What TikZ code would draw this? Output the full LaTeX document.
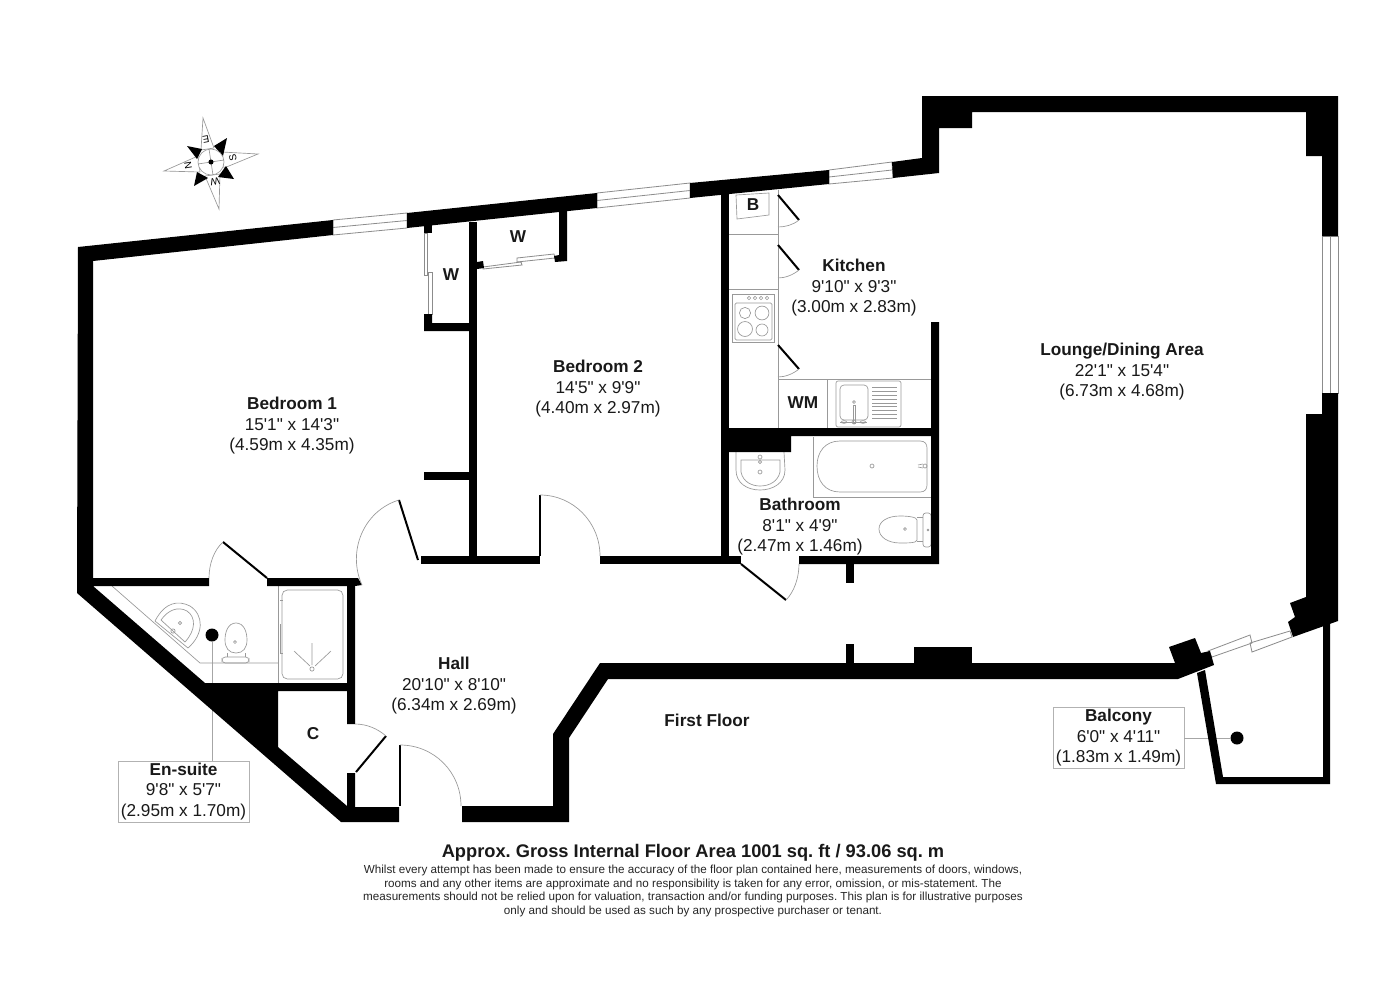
\documentclass[tikz,border=0pt]{standalone}
\usepackage{fontspec}
\setmainfont{Liberation Sans}
\newfontfamily\planfont{Liberation Sans}
\frenchspacing

\begin{document}
\begin{tikzpicture}[
    x=0.75pt, y=-0.75pt,
    wall/.style={fill=black},
    fixture/.style={draw=black!40, line width=0.5pt},
    glazing/.style={draw=black!45, line width=0.6pt},
    doorleaf/.style={draw=black, line width=1.5pt},
    swing/.style={draw=black!40, line width=0.5pt},
    roomlabel/.style={align=center, inner sep=0pt, text=black!90, font=\planfont\fontsize{12.9}{15.4}\selectfont},
    boxlabel/.style={roomlabel, draw=black!30, line width=0.6pt, minimum height=45.75pt},
    unitlabel/.style={inner sep=0pt, text=black!90, font=\planfont\bfseries\fontsize{12.9}{15.4}\selectfont},
    blackdot/.style={circle, fill=black, minimum size=9.75pt, inner sep=0pt},
    leader/.style={draw=black!35, line width=0.5pt},
    ]

    \path[fill=white] (0,0) rectangle (1400,989);
    \useasboundingbox (0,0) rectangle (1400,989);

    % compass
    \draw[fixture,fill=white] (164,171) -- (198,156) -- (200,172) -- cycle;
    \draw[fixture,fill=white] (258,154) -- (222,152) -- (224,168) -- cycle;
    \draw[fixture,fill=white] (203,118) -- (201,150) -- (214,148) -- cycle;
    \draw[fixture,fill=white] (219,209) -- (205,176) -- (220,174) -- cycle;
    \fill (187,146) -- (202,149) -- (197,159) -- cycle;
    \fill (227,138) -- (214,146) -- (223,156) -- cycle;
    \fill (234,179) -- (226,166) -- (218,177) -- cycle;
    \fill (194,186) -- (197,172) -- (208,178) -- cycle;
    \draw[fixture,fill=white] (211,162) circle (9.75pt);
    \draw[fixture] (198,164) -- (224,160);
    \draw[fixture] (209,149) -- (213,175);
    \fill (211,162) circle (1.9pt);
    \node[font=\planfont\fontsize{7.5}{9}\selectfont,rotate=190,inner sep=0pt] (compe) at (206,139) {E};
    \node[font=\planfont\fontsize{7.5}{9}\selectfont,rotate=100,inner sep=0pt] (compn) at (188,166) {N};
    \node[font=\planfont\fontsize{7.5}{9}\selectfont,rotate=100,inner sep=0pt] (comps) at (233,158) {S};
    \node[font=\planfont\fontsize{7.5}{9}\selectfont,rotate=190,inner sep=0pt] (compw) at (215,182) {W};

    % labels with leaders
    \node[boxlabel,minimum width=98.25pt] (ensuite) at (183.5,791.5) {\textbf{En-suite}\\9'8" x 5'7"\\(2.95m x 1.70m)};
    \node[boxlabel,minimum width=98.25pt] (balcony) at (1118.5,738) {\textbf{Balcony}\\6'0" x 4'11"\\(1.83m x 1.49m)};
    \node[blackdot] (ensuitedot) at (212,635) {};
    \node[blackdot] (balconydot) at (1237,738) {};
    \draw[leader] (ensuitedot) -- (ensuitedot |- ensuite.north);
    \draw[leader] (balcony.east) -- (balconydot);

    % windows
    \draw[glazing] (333,220) -- (407,213) -- (407,228) -- (333,235) -- cycle (333,227.5) -- (407,220.5);
    \draw[glazing] (597,193) -- (690,183) -- (690,198) -- (597,208) -- cycle (597,200.5) -- (690,190.5);
    \draw[glazing] (829,170) -- (892,162) -- (893,178) -- (829,184) -- cycle (829,177) -- (892,170);
    \draw[glazing] (1322,236) rectangle (1338,393) (1330,236) -- (1330,393);
    \draw[glazing] (1208,651) -- (1250,635) -- (1252,643) -- (1212,657) -- cycle;
    \draw[glazing] (1250,643) -- (1290,631) -- (1292,637) -- (1252,652) -- cycle;

    % fitted fixtures, en-suite
    \draw[fixture] (112,586) -- (200,663) -- (278,663);
    \draw[fixture] (278,586) -- (278,683);
    \draw[fixture,rounded corners=4pt] (282,590) rectangle (343,679);
    \draw[fixture] (280,600) -- (283,600) (280,624) -- (280,653) -- (283,653);
    \draw[fixture] (312,669) circle (1.6pt);
    \draw[fixture] (312,643) -- (312,665) (294,651) -- (310,666) (331,651) -- (315,666);
    \draw[fixture] (155,621) .. controls (165,602) and (178,600) .. (190,606) .. controls (204,615) and (204,634) .. (188,648) -- cycle;
    \draw[fixture] (161,620) .. controls (168,610) and (178,606) .. (187,611) .. controls (196,617) and (196,630) .. (185,642) -- cycle;
    \draw[fixture] (180,623) circle (1.2pt) (173,631) circle (1.6pt);
    \draw[fixture] (236,623) .. controls (228,623) and (225,632) .. (225,640) .. controls (225,648) and (229,653) .. (236,653) .. controls (243,653) and (247,648) .. (247,640) .. controls (247,632) and (244,623) .. (236,623) -- cycle;
    \draw[fixture] (235,642) circle (1.1pt);
    \draw[fixture] (227,653) -- (227,657) (245,653) -- (245,657);
    \draw[fixture,rounded corners=2.5pt] (222,657) rectangle (249,663);

    % fitted fixtures, kitchen
    \draw[fixture] (778,190) -- (778,428) (729,234) -- (778,234) (729,289) -- (778,289);
    \draw[fixture] (778,379) -- (931,379) (827,379) -- (827,428);
    \draw[fixture] (736,195) -- (769,193) -- (769,215) -- (737,219) -- cycle;
    \draw[fixture] (732,294) rectangle (774,342);
    \draw[fixture,rounded corners=1pt] (735,303) rectangle (772,340);
    \foreach \knobx in {749,755,761,767}
        \draw[fixture] (\knobx,298) circle (1.3pt);
    \draw[fixture] (745,313) circle (4.2pt) (762,313) circle (5.2pt) (745,329) circle (5.6pt) (762,330) circle (4.5pt);
    \draw[fixture,rounded corners=1.5pt] (836,381) rectangle (901,427);
    \draw[fixture,rounded corners=3pt] (840,385) rectangle (868,420);
    \foreach \liney in {387,391,395,399,403,406,410,414,418}
        \draw[fixture] (872,\liney) -- (897,\liney);
    \draw[fixture] (854,402) circle (1.1pt);
    \draw[fixture] (853,405) rectangle (855,423);
    \draw[fixture] (844,422) ellipse (2pt and 1pt) (854,422) ellipse (1.5pt and 1.5pt) (863,422) ellipse (2pt and 1pt);
    \draw[fixture] (840,422) -- (867,422);

    % fitted fixtures, bathroom
    \draw[fixture] (813,437) -- (813,497) -- (931,497);
    \draw[fixture] (840,441) .. controls (825,441) and (817,452) .. (817,466) .. controls (817,481) and (825,492) .. (840,492) -- (920,492) .. controls (925,492) and (927,489) .. (927,485) -- (927,448) .. controls (927,444) and (925,441) .. (920,441) -- cycle;
    \draw[fixture] (872,466) circle (1.5pt) (925,466) circle (1.5pt);
    \draw[fixture] (918,465) -- (923,464) (918,467) -- (923,468);
    \draw[fixture] (784,452) -- (785,470) .. controls (785,483) and (773,490) .. (760,490) .. controls (747,490) and (736,483) .. (736,470) -- (736,452);
    \draw[fixture] (741,460) -- (741,472) .. controls (743,482) and (752,486) .. (760,486) .. controls (770,486) and (778,481) .. (780,472) -- (780,460) -- cycle;
    \draw[fixture] (760,457) circle (1.5pt) (760,462) circle (1.2pt) (760,472) circle (1.5pt);
    \draw[fixture] (879,529) .. controls (879,521) and (888,516) .. (900,516) .. controls (908,516) and (917,517) .. (917,520) -- (917,540) .. controls (917,543) and (908,543) .. (900,543) .. controls (888,543) and (879,537) .. (879,529) -- cycle;
    \draw[fixture] (905,529) circle (1.1pt);
    \draw[fixture] (917,517) -- (923,517) (917,541) -- (923,541);
    \draw[fixture,rounded corners=2pt] (923,513) rectangle (931,547);
    \draw[fixture] (928,530) circle (0.7pt);

    % wardrobe sliding doors
    \draw[glazing] (424,233) rectangle (427,275);
    \draw[glazing] (428,272) rectangle (432,314);
    \draw[glazing] (483,267) -- (521,262) -- (522,265) -- (483,269) -- cycle;
    \draw[glazing] (517,258) -- (554,254) -- (555,258) -- (517,262) -- cycle;

    % walls
    \fill[wall] (78,247) -- (333,220) -- (333,235) -- (93,261) -- (93,578) -- (209,578) -- (209,586) -- (93,586) -- (205,683) -- (347,683) -- (347,586) -- (267,586) -- (267,578) -- (358,578) -- (362,585) -- (355,586) -- (355,724) -- (347,724) -- (347,691) -- (278,691) -- (278,747) -- (347,806) -- (347,773) -- (355,773) -- (355,807) -- (399,807) -- (399,822) -- (341,822) -- (77,593) -- cycle;
    \fill[wall] (407,213) -- (597,193) -- (597,208) -- (407,228) -- cycle;
    \fill[wall] (690,183) -- (829,170) -- (829,184) -- (690,198) -- cycle;
    \fill[wall] (892,162) -- (922,158) -- (922,96) -- (1338,96) -- (1338,236) -- (1322,236) -- (1322,156) -- (1306,156) -- (1306,112) -- (972,112) -- (972,128) -- (939,128) -- (939,173) -- (893,178) -- cycle;
    \fill[wall] (1338,393) -- (1338,621) -- (1293,637) -- (1288,622) -- (1295,617) -- (1290,603) -- (1306,597) -- (1306,414) -- (1322,414) -- (1322,393) -- cycle;
    \fill[wall] (600,663) -- (1175,663) -- (1169,647) -- (1195,638) -- (1201,653) -- (1210,651) -- (1214,665) -- (1178,679) -- (608,679) -- (569,738) -- (569,822) -- (462,822) -- (462,806) -- (553,806) -- (553,734) -- cycle;
    \fill[wall] (1197,673) -- (1205,670) -- (1223,777) -- (1323,777) -- (1323,626) -- (1330,622) -- (1330,784) -- (1216,784) -- cycle;
    % inner walls
    \fill[wall] (424,222) rectangle (432,233);
    \fill[wall] (424,314) -- (432,314) -- (432,323) -- (469,323) -- (469,331) -- (424,331) -- cycle;
    \fill[wall] (469,222) rectangle (477,556);
    \fill[wall] (424,472) rectangle (469,480);
    \fill[wall] (477,262) -- (483,261) -- (484,268) -- (477,269) -- cycle;
    \fill[wall] (559,205) -- (567,205) -- (567,261) -- (555,262) -- (554,256) -- (559,255) -- cycle;
    \fill[wall] (421,556) rectangle (540,564);
    \fill[wall] (600,556) rectangle (741,564);
    \fill[wall] (721,190) rectangle (729,556);
    \fill[wall] (799,556) -- (931,556) -- (931,322) -- (939,322) -- (939,564) -- (799,564) -- cycle;
    \fill[wall] (729,428) -- (931,428) -- (931,436) -- (791,436) -- (791,452) -- (729,452) -- cycle;
    \fill[wall] (846,564) rectangle (854,583);
    \fill[wall] (846,644) rectangle (854,663);
    \fill[wall] (914,647) rectangle (972,663);

    % door leaves and swings
    \draw[doorleaf] (223,542) -- (267,578);
    \draw[swing] (223,542) .. controls (214,550) and (209,564) .. (209,578);
    \draw[doorleaf] (399,500) -- (418,560);
    \draw[swing] (399,500) .. controls (363,511) and (347,552) .. (362,585);
    \draw[doorleaf] (540,495) -- (540,556);
    \draw[swing] (540,495) .. controls (573,495) and (600,522) .. (600,556);
    \draw[doorleaf] (741,564) -- (786,600);
    \draw[swing] (786,600) .. controls (794,592) and (799,578) .. (799,564);
    \draw[doorleaf] (356,772) -- (386,736);
    \draw[swing] (386,736) .. controls (378,729) and (367,724) .. (355,724);
    \draw[doorleaf] (400,745) -- (400,806);
    \draw[swing] (400,745) .. controls (434,745) and (461,772) .. (461,806);
    \draw[doorleaf] (778,195) -- (799,220);
    \draw[swing] (799,220) .. controls (793,225) and (785,227) .. (778,227);
    \draw[doorleaf] (778,245) -- (799,270);
    \draw[swing] (799,270) .. controls (793,275) and (785,278) .. (778,278);
    \draw[doorleaf] (778,345) -- (799,369);
    \draw[swing] (799,369) .. controls (793,374) and (785,377) .. (778,377);

    % room labels
    \node[roomlabel] (bedone) at (292,426) {\textbf{Bedroom 1}\\15'1" x 14'3"\\(4.59m x 4.35m)};
    \node[roomlabel] (bedtwo) at (598,389) {\textbf{Bedroom 2}\\14'5" x 9'9"\\(4.40m x 2.97m)};
    \node[roomlabel] (kitchen) at (854,288) {\textbf{Kitchen}\\9'10" x 9'3"\\(3.00m x 2.83m)};
    \node[roomlabel] (lounge) at (1122,372) {\textbf{Lounge/Dining Area}\\22'1" x 15'4"\\(6.73m x 4.68m)};
    \node[roomlabel] (bathroom) at (800,527) {\textbf{Bathroom}\\8'1" x 4'9"\\(2.47m x 1.46m)};
    \node[roomlabel] (hall) at (454,686) {\textbf{Hall}\\20'10" x 8'10"\\(6.34m x 2.69m)};
    \node[unitlabel] (wone) at (451,275) {W};
    \node[unitlabel] (wtwo) at (518,237) {W};
    \node[unitlabel] (cupboard) at (313,734) {C};
    \node[unitlabel] (boiler) at (753,205) {B};
    \node[unitlabel] (washer) at (803,403) {WM};
    \node[unitlabel] (floor) at (707,720) {First Floor};

    % footer
    \node[inner sep=0pt,font=\planfont\bfseries\fontsize{13.7}{16}\selectfont,text=black!90] (area) at (693,853) {Approx. Gross Internal Floor Area 1001 sq. ft / 93.06 sq. m};
    \node[align=center,inner sep=0pt,text=black!85,font=\planfont\fontsize{8.75}{10.35}\selectfont,anchor=north] (notice) at (693,864.5) {Whilst every attempt has been made to ensure the accuracy of the floor plan contained here, measurements of doors, windows,\\rooms and any other items are approximate and no responsibility is taken for any error, omission, or mis-statement. The\\measurements should not be relied upon for valuation, transaction and/or funding purposes. This plan is for illustrative purposes\\only and should be used as such by any prospective purchaser or tenant.};
\end{tikzpicture}
\end{document}
